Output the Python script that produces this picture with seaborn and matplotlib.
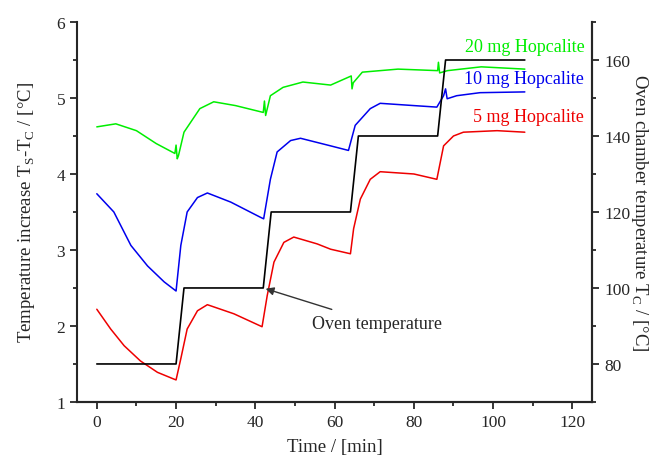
import pandas as pd
import matplotlib
matplotlib.use('Agg')
import matplotlib.pyplot as plt
import seaborn as sns
from matplotlib.ticker import MultipleLocator

# --- data ---
t_green = [0, 4.8, 10, 15, 19.7, 20.0, 20.3, 20.6, 22, 26, 29.5, 35, 42, 42.3, 42.6, 43.8, 47, 52, 59, 64.2, 64.4, 64.7, 67, 76, 86, 86.2, 86.5, 88.5, 97, 108]
v_green = [4.62, 4.66, 4.57, 4.40, 4.27, 4.38, 4.20, 4.24, 4.55, 4.86, 4.95, 4.90, 4.81, 4.96, 4.77, 5.03, 5.14, 5.21, 5.17, 5.29, 5.12, 5.20, 5.34, 5.38, 5.36, 5.47, 5.33, 5.36, 5.41, 5.38]

t_blue = [0, 4.3, 8.6, 12.8, 17, 20, 21.2, 22.8, 25.4, 27.9, 33.8, 41.3, 42.1, 43.8, 45.5, 48.9, 51.4, 59, 63.5, 65.2, 69, 71.5, 80, 85.8, 87.5, 88.0, 88.4, 90.8, 96.7, 108]
v_blue = [3.74, 3.50, 3.06, 2.79, 2.58, 2.46, 3.06, 3.50, 3.69, 3.75, 3.63, 3.43, 3.41, 3.93, 4.29, 4.44, 4.47, 4.37, 4.31, 4.64, 4.86, 4.93, 4.90, 4.88, 5.03, 5.12, 4.99, 5.03, 5.07, 5.08]

t_red = [0, 3.5, 6.9, 11, 15.3, 19.5, 20, 21.2, 22.8, 25.4, 27.9, 34.6, 41.7, 43, 44.7, 47.2, 49.7, 55.6, 59, 64, 64.8, 66.5, 69, 71.5, 80, 85.8, 87.5, 90, 92.5, 101, 108]
v_red = [2.22, 1.96, 1.74, 1.54, 1.39, 1.30, 1.29, 1.57, 1.96, 2.20, 2.28, 2.16, 1.99, 2.40, 2.84, 3.10, 3.17, 3.08, 3.01, 2.95, 3.28, 3.67, 3.93, 4.03, 4.00, 3.93, 4.37, 4.50, 4.55, 4.57, 4.55]

t_oven = [0, 20, 22, 42, 44, 64, 66, 86, 88, 108]
T_oven = [80, 80, 100, 100, 120, 120, 140, 140, 160, 160]

sns.set_style("ticks")
plt.rcParams['font.family'] = ['Liberation Serif', 'DejaVu Serif']
plt.rcParams['mathtext.fontset'] = 'custom'
plt.rcParams['mathtext.rm'] = 'Liberation Serif'
plt.rcParams['xtick.direction'] = 'out'
plt.rcParams['ytick.direction'] = 'out'

fig = plt.figure(figsize=(6.58, 4.60), dpi=100)
ax = fig.add_axes([0.117, 0.124, 0.783, 0.826])

series = [(t_green, v_green, '#00ee00'), (t_blue, v_blue, '#0000ee'), (t_red, v_red, '#ee0000')]
for t, v, c in series:
    df = pd.DataFrame({'t': t, 'v': v})
    sns.lineplot(data=df, x='t', y='v', ax=ax, color=c, lw=1.1, sort=False, estimator=None)

ax.set_xlim(-5, 125)
ax.set_ylim(1, 6)
ax.xaxis.set_major_locator(MultipleLocator(20))
ax.xaxis.set_minor_locator(MultipleLocator(10))
ax.yaxis.set_major_locator(MultipleLocator(1))
ax.yaxis.set_minor_locator(MultipleLocator(0.5))
ax.set_xlabel('Time / [min]', fontsize=13.5, labelpad=6)
ax.set_ylabel(r'Temperature increase T$_\mathregular{S}$-T$_\mathregular{C}$ / [°C]', fontsize=13.5, labelpad=14)

ax2 = ax.twinx()
df_oven = pd.DataFrame({'t': t_oven, 'T': T_oven})
sns.lineplot(data=df_oven, x='t', y='T', ax=ax2, color='black', lw=1.2, sort=False, estimator=None)
ax2.set_ylim(70, 170)
ax2.yaxis.set_major_locator(MultipleLocator(20))
ax2.yaxis.set_minor_locator(MultipleLocator(10))
ax2.set_ylabel(r'Oven chamber temperature T$_\mathregular{C}$ / [°C]', fontsize=13.5, rotation=270, labelpad=14)

for a in (ax, ax2):
    a.spines['top'].set_visible(False)
    for s in ('left', 'right', 'bottom'):
        a.spines[s].set_linewidth(1.5)
    a.tick_params(which='major', length=5, width=1.3, labelsize=12.5)
    a.tick_params(which='minor', length=3, width=1.3)
ax2.spines['left'].set_visible(False)

ax.text(123, 5.68, '20 mg Hopcalite', color='#00ee00', fontsize=13, ha='right', va='center')
ax.text(123, 5.25, '10 mg Hopcalite', color='#0000ee', fontsize=13, ha='right', va='center')
ax.text(123, 4.75, '5 mg Hopcalite', color='#ee0000', fontsize=13, ha='right', va='center')

ax.annotate('Oven temperature', xy=(42.6, 2.49), xytext=(54.4, 2.03), fontsize=13,
            va='center', ha='left',
            arrowprops=dict(arrowstyle='-|>', color='#333333', lw=1, shrinkA=6, shrinkB=0,
                            mutation_scale=12))

fig.savefig('out.png', dpi=100)
